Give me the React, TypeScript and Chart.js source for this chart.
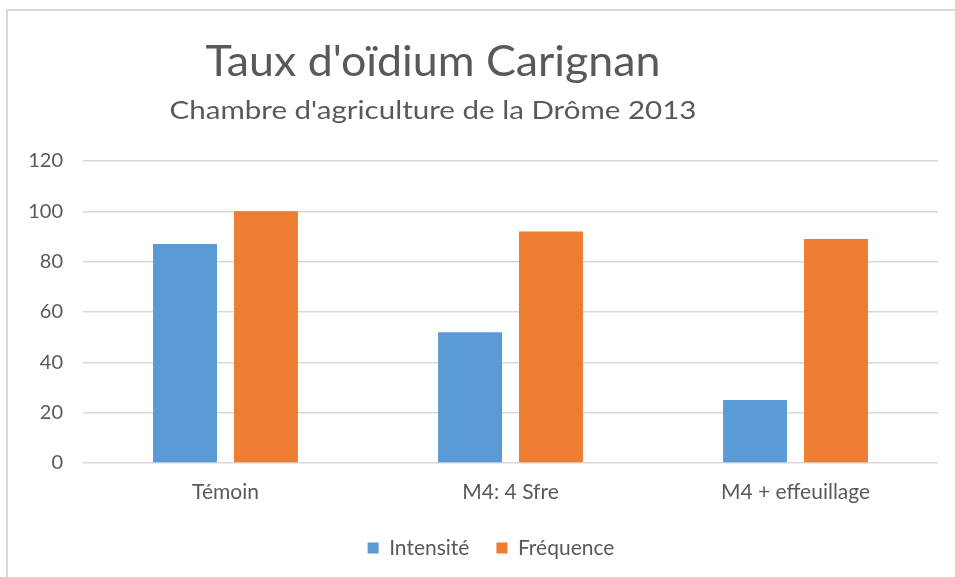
import React, { useEffect, useRef } from "react";
import { Chart, registerables } from "chart.js";

Chart.register(...registerables);

const categories = ["Témoin", "M4: 4 Sfre", "M4 + effeuillage"];
const seriesNames = ["Intensité", "Fréquence"];
const intensite = [87, 52, 25];
const frequence = [100, 92, 89];
const seriesColors = ["#5b9bd5", "#ed7d31"];
const yMin = 0;
const yMax = 120;
const yStep = 20;
const titleText = "Taux d'oïdium Carignan";
const subtitleText = "Chambre d'agriculture de la Drôme 2013";

const FONT = "Lato, 'Open Sans', sans-serif";
const TEXT = "#595959";

function drawFitted(ctx: CanvasRenderingContext2D, text: string, cx: number, baseline: number, targetW: number, size: number) {
  ctx.font = `${size}px ${FONT}`;
  const w = ctx.measureText(text).width;
  const k = targetW / w;
  ctx.save();
  ctx.translate(cx, baseline);
  ctx.scale(k, 1);
  ctx.textAlign = "center";
  ctx.textBaseline = "alphabetic";
  ctx.fillText(text, 0, 0);
  ctx.restore();
}

const titlePlugin = {
  id: "customTitles",
  afterLayout(chart: any) {
    const lg = chart.legend;
    if (lg) {
      lg.left += 12;
      lg.right += 12;
    }
  },
  afterDraw(chart: any) {
    const ctx: CanvasRenderingContext2D = chart.ctx;
    ctx.save();
    ctx.fillStyle = TEXT;
    drawFitted(ctx, titleText, 433, 76, 455, 43);
    drawFitted(ctx, subtitleText, 433, 119, 527, 25);
    ctx.restore();
  },
};

export default function App() {
  const ref = useRef<HTMLCanvasElement | null>(null);

  useEffect(() => {
    if (!ref.current) return;
    const chart = new Chart(ref.current, {
      type: "bar",
      data: {
        labels: categories,
        datasets: [
          { label: seriesNames[0], data: intensite, backgroundColor: seriesColors[0], borderWidth: 0 },
          { label: seriesNames[1], data: frequence, backgroundColor: seriesColors[1], borderWidth: 0 },
        ],
      },
      options: {
        animation: false,
        responsive: false,
        maintainAspectRatio: false,
        devicePixelRatio: 1,
        layout: { padding: { top: 161, left: 20, right: 17, bottom: 8.5 } },
        datasets: { bar: { categoryPercentage: 0.568, barPercentage: 0.79 } },
        scales: {
          x: {
            grid: { display: false, drawTicks: false },
            border: { display: false },
            ticks: { color: TEXT, font: { family: FONT, size: 21 }, padding: 16.5 },
            afterFit: (s: any) => { s.height = 47.5; },
          },
          y: {
            min: yMin,
            max: yMax,
            ticks: { stepSize: yStep, color: TEXT, font: { family: FONT, size: 20 }, padding: 20 },
            grid: { color: "#d9d9d9", lineWidth: 1.5, drawTicks: false },
            border: { display: false },
            afterFit: (s: any) => { s.width = 63; },
          },
        },
        plugins: {
          legend: {
            position: "bottom",
            labels: {
              color: TEXT,
              font: { family: FONT, size: 21 },
              boxWidth: 11,
              boxHeight: 11,
              padding: 27,
            },
          },
          tooltip: { enabled: false },
          title: { display: false },
        },
      },
      plugins: [titlePlugin],
    });
    return () => chart.destroy();
  }, []);

  return (
    <div style={{ position: "fixed", left: 0, top: 0, width: 955, height: 577, background: "#fff", overflow: "hidden" }}>
      <div
        style={{
          position: "absolute",
          left: 6,
          top: 9,
          width: 1000,
          height: 700,
          borderLeft: "2px solid #d9d9d9",
          borderTop: "2px solid #d9d9d9",
          boxSizing: "border-box",
        }}
      />
      <canvas ref={ref} width={955} height={577} style={{ position: "absolute", left: 0, top: 0, width: 955, height: 577 }} />
    </div>
  );
}
